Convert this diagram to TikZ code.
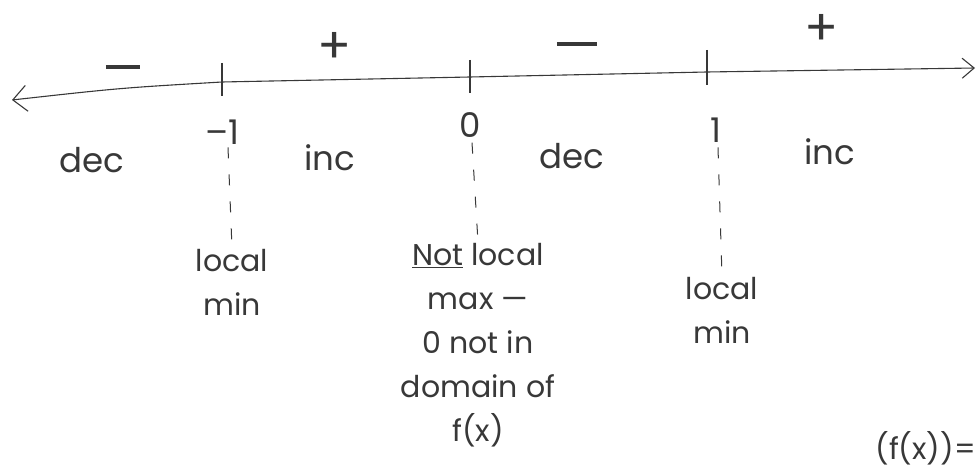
\documentclass[tikz,border=0pt]{standalone}
\usepackage{fontspec}
\setmainfont{Poppins}
\usetikzlibrary{arrows.meta,calc}
\definecolor{ink}{gray}{0.22}
\tikzset{
  pen/.style={draw=ink, line width=1.1pt, line cap=round},
  word/.style={text=ink, font=\fontsize{34}{38}\selectfont, inner sep=1pt},
  sign/.style={text=ink, font=\fontsize{50}{50}\selectfont, inner sep=0pt},
  note/.style={text=ink, font=\fontsize{30}{44}\selectfont, align=center, inner sep=1pt},
  guide/.style={draw=ink, line width=1pt, dash pattern=on 11pt off 16pt},
  tickmark/.style={draw=ink, line width=1.4pt},
  bar/.style={draw=ink, line width=4pt},
}
\begin{document}
\begin{tikzpicture}[x=1pt,y=-1pt]
\useasboundingbox (0,0) rectangle (980,470);

% number line
\coordinate (L) at (12,100);
\coordinate (P1) at (222,82);
\coordinate (P2) at (470,77);
\coordinate (P3) at (707,72);
\coordinate (R) at (975,68);
\draw[pen, {Straight Barb[length=14pt,width=26pt]}-{Straight Barb[length=12pt,width=20pt]}]
  (L) .. controls (120,88) .. (P1) -- (P2) -- (P3) -- (R);

% critical points
\draw[tickmark] ($(P1)+(0,-19)$) -- ($(P1)+(0,14)$);
\draw[tickmark] ($(P2)+(0,-17)$) -- ($(P2)+(0,16)$);
\draw[tickmark] ($(P3)+(0,-22)$) -- ($(P3)+(0,13)$);

% signs of f'
\node[inner sep=0pt, minimum width=34pt, minimum height=4pt] (s1) at (123,67) {};
\draw[bar] (s1.west) -- (s1.east);
\node[sign] (s2) at (335,48) {+};
\node[inner sep=0pt, minimum width=40pt, minimum height=4pt] (s3) at (577,44) {};
\draw[bar] (s3.west) -- (s3.east);
\node[sign] (s4) at (822,30) {+};

% x values
\node[word] (xm1) at (222,132) {–1};
\node[word] (x0) at (470,125) {0};
\node[word] (x1) at (716,130) {1};

% behaviour on each interval
\node[word] (d1) at (92,160) {dec};
\node[word] (i1) at (330,158) {inc};
\node[word] (d2) at (572,156) {dec};
\node[word] (i2) at (830,152) {inc};

% classification of each point
\node[note, anchor=north] (n1) at (232,248) {local\\min};
\node[note, anchor=north] (n2) at (478,242) {\underline{Not} local\\max —\\0 not in\\domain of\\f(x)};
\node[note, anchor=north] (n3) at (722,276) {local\\min};
\node[note, anchor=south east] (n4) at (977,466) {(f(x))=};

% guides down to the notes
\draw[guide] (xm1.south) ++(6,2) -- (n1.north);
\draw[guide] (x0.south) ++(2,4) -- (n2.north);
\draw[guide] (x1.south) ++(2,4) -- (n3.north);
\end{tikzpicture}
\end{document}
